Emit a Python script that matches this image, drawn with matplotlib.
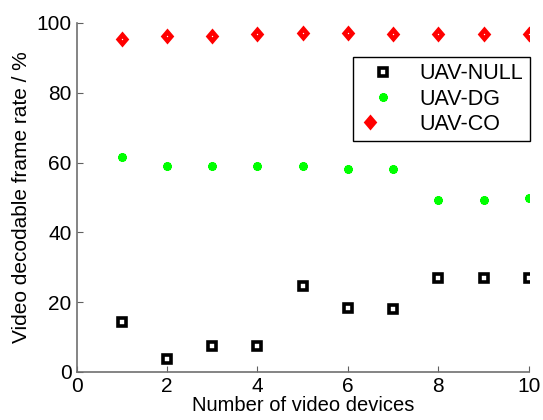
import matplotlib
matplotlib.use("Agg")
import matplotlib.pyplot as plt
from matplotlib.legend_handler import HandlerTuple

plt.rcParams['font.family'] = ['Liberation Sans', 'DejaVu Sans']

devices = [1, 2, 3, 4, 5, 6, 7, 8, 9, 10]
uav_null = [14.3, 3.7, 7.4, 7.4, 24.6, 18.3, 18.1, 26.9, 26.9, 26.9]
uav_dg = [61.6, 59.0, 59.0, 59.0, 59.0, 58.2, 58.2, 49.3, 49.3, 49.9]
uav_co = [95.4, 96.3, 96.4, 96.7, 97.0, 97.0, 96.8, 96.8, 96.8, 96.8]

# slightly tall diamond
diamond = [(0, 1), (0.85, 0), (0, -1), (-0.85, 0), (0, 1)]

fig = plt.figure(figsize=(5.43, 4.2), dpi=100)
ax = fig.add_axes([0.141, 0.1143, 0.833, 0.831])

h_null, = ax.plot(devices, uav_null, linestyle='none', marker='s', markersize=6,
                  markeredgewidth=2.6, markeredgecolor='black',
                  markerfacecolor='white')
h_dg, = ax.plot(devices, uav_dg, linestyle='none', marker=(6, 2, 0), markersize=6,
                markeredgewidth=2.6, color='#00ff00')
h_co, = ax.plot(devices, uav_co, linestyle='none', marker=diamond, markersize=11.5,
                color='#ff0000', markeredgewidth=0)
h_co_dot, = ax.plot(devices, uav_co, linestyle='none', marker='o', markersize=1,
                    color='white', markeredgewidth=0)

ax.set_xlim(0, 10)
ax.set_ylim(0, 100)
ax.set_xticks(range(0, 11, 2))
ax.set_yticks(range(0, 101, 20))
ax.tick_params(direction='in', labelsize=15, length=4, color='#606060', pad=3.5)
for side in ('top', 'right'):
    ax.spines[side].set_visible(False)
for side in ('left', 'bottom'):
    ax.spines[side].set_color('#707070')
    ax.spines[side].set_linewidth(1.2)

ax.set_xlabel('Number of video devices', fontsize=14.5, labelpad=0)
ax.set_ylabel('Video decodable frame rate / %', fontsize=15, labelpad=4)

leg = ax.legend([h_null, h_dg, (h_co, h_co_dot)], ['UAV-NULL', 'UAV-DG', 'UAV-CO'],
                handler_map={tuple: HandlerTuple(ndivide=None)},
                loc='upper right', bbox_to_anchor=(1.002, 0.903), borderaxespad=0,
                fontsize=15.5, fancybox=False, framealpha=1, edgecolor='black',
                borderpad=0.3, labelspacing=0.2, handletextpad=0.6,
                handlelength=2.2)
leg.get_frame().set_linewidth(1.0)

fig.savefig('out.png', dpi=100)
